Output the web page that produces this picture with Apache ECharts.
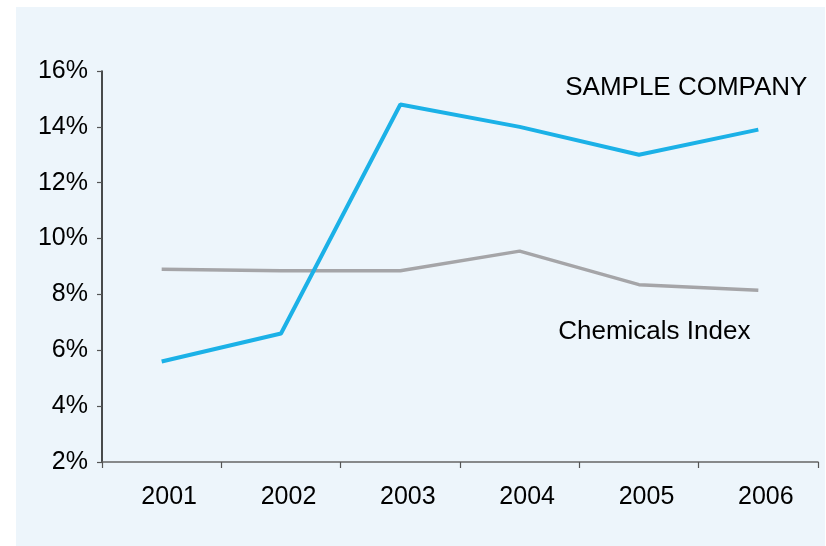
<!DOCTYPE html>
<html>
<head>
<meta charset="utf-8">
<script src="https://cdn.jsdelivr.net/npm/echarts@6/dist/echarts.min.js"></script>
<style>
  html, body { margin: 0; padding: 0; background: #ffffff; }
  #chart { width: 826px; height: 546px; }
</style>
</head>
<body>
<div id="chart"></div>
<script>
// Annual return, sample company vs. the chemicals index (%)
const years = ['2001', '2002', '2003', '2004', '2005', '2006'];
const companyReturn = [5.6, 6.6, 14.8, 14.0, 13.0, 13.9];
const chemicalsIndex = [8.9, 8.85, 8.85, 9.55, 8.35, 8.15];
const yTicks = { min: 2, max: 16, step: 2 };
const names = { company: 'SAMPLE COMPANY', index: 'Chemicals Index' };

const FONT = '"Liberation Sans", Arial, Helvetica, sans-serif';
const chart = echarts.init(document.getElementById('chart'), null, { renderer: 'canvas' });

chart.setOption({
  animation: false,
  backgroundColor: 'transparent',
  textStyle: { fontFamily: FONT },
  graphic: [{
    type: 'rect',
    z: -10,
    silent: true,
    shape: { x: 16, y: 7, width: 809, height: 539 },
    style: { fill: '#EDF5FB' }
  }],
  grid: { left: 102, right: 8, top: 71, bottom: 84, containLabel: false },
  xAxis: {
    type: 'category',
    data: years,
    boundaryGap: true,
    axisLine: { lineStyle: { color: '#666666', width: 1.5 } },
    axisTick: { show: true, length: 6, lineStyle: { color: '#555555', width: 1.2 } },
    axisLabel: {
      color: '#000000', fontSize: 25, fontFamily: FONT, margin: 23,
      padding: [0, 0, 0, 15]
    },
    splitLine: { show: false }
  },
  yAxis: {
    type: 'value',
    min: yTicks.min,
    max: yTicks.max,
    interval: yTicks.step,
    axisLine: { show: true, lineStyle: { color: '#111111', width: 1.5 } },
    axisTick: { show: true, length: 5, lineStyle: { color: '#555555', width: 1.2 } },
    axisLabel: {
      color: '#000000', fontSize: 25, fontFamily: FONT, margin: 14,
      formatter: '{value}%'
    },
    splitLine: { show: false }
  },
  series: [
    {
      name: names.index,
      type: 'line',
      data: chemicalsIndex,
      symbol: 'none',
      lineStyle: { color: '#A5A5A8', width: 3.5 },
      markPoint: {
        symbol: 'circle', symbolSize: 0,
        data: [{ coord: [years[5], chemicalsIndex[5]] }],
        label: {
          show: true, position: 'inside', formatter: names.index,
          color: '#000000', fontSize: 26, fontFamily: FONT,
          offset: [-104, 42]
        }
      }
    },
    {
      name: names.company,
      type: 'line',
      data: companyReturn,
      symbol: 'none',
      lineStyle: { color: '#1BB1E7', width: 4 },
      markPoint: {
        symbol: 'circle', symbolSize: 0,
        data: [{ coord: [years[5], companyReturn[5]] }],
        label: {
          show: true, position: 'inside', formatter: names.company,
          color: '#000000', fontSize: 26, fontFamily: FONT,
          offset: [-72, -41.5]
        }
      }
    }
  ]
});
</script>
</body>
</html>
